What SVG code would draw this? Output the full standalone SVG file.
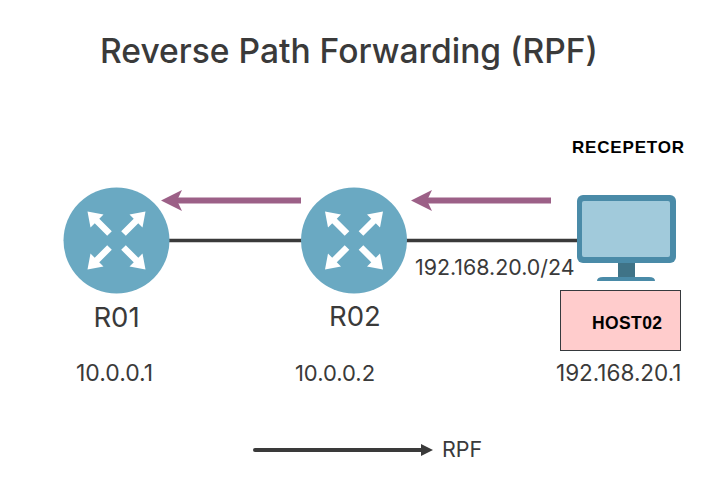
<svg xmlns="http://www.w3.org/2000/svg" width="726" height="484" viewBox="0 0 726 484">
<style>
.t{font-family:Inter,"Liberation Sans",sans-serif;fill:#3a3a3a}
.b{font-family:"Liberation Sans",Arial,sans-serif;font-weight:700;fill:#000}
.r{fill:#6aa9c2}
.wa{fill:none;stroke:#fff;stroke-width:6.500}
.wh{fill:#fff}
.link{stroke:#3a3a3a;stroke-width:3.500;fill:none}
.rpf{stroke:#9c6087;stroke-width:6;fill:none}
.rpfh{fill:#9c6087}
</style>
<defs>
<g id="arrows">
<path class="wa" d="M-7,-7L-22,-22M7,-7L22,-22M-7,7L-22,22M7,7L22,22"/>
<path class="wh" d="M-29,-29L-26,-13L-13,-26ZM29,-29L26,-13L13,-26ZM-29,29L-26,13L-13,26ZM29,29L26,13L13,26Z"/>
</g>
</defs>
<rect width="726" height="484" fill="#fff"/>
<text class="t" x="100" y="63" font-size="33.600" font-weight="500">Reverse Path Forwarding (RPF)</text>
<g id="connectors">
<path class="link" d="M168,240.500H303M406,240.500H578"/>
<path class="rpf" d="M301,200.500H172"/>
<path class="rpfh" d="M161,200.500L182,190L177,200.500L182,211Z"/>
<path class="rpf" d="M551,200.500H422"/>
<path class="rpfh" d="M411,200.500L432,190L427,200.500L432,211Z"/>
</g>
<g id="r01">
<circle class="r" cx="116.500" cy="240.500" r="53"/>
<use href="#arrows" x="116.500" y="240.500"/>
<text class="t" x="116.500" y="327" font-size="27.500" text-anchor="middle">R01</text>
<text class="t" x="114.500" y="381" font-size="23" text-anchor="middle">10.0.0.1</text>
</g>
<g id="r02">
<circle class="r" cx="354" cy="240.500" r="53"/>
<use href="#arrows" x="354" y="240.500"/>
<text class="t" x="355" y="326" font-size="27.500" text-anchor="middle">R02</text>
<text class="t" x="335" y="381" font-size="22" text-anchor="middle">10.0.0.2</text>
</g>
<text class="t" x="415" y="275" font-size="21.400">192.168.20.0/24</text>
<g id="host02">
<text class="b" x="572" y="153" font-size="17" textLength="112" lengthAdjust="spacing">RECEPETOR</text>
<rect x="577" y="195" width="99" height="68" rx="6" fill="#4a8ba8"/>
<rect x="582" y="201" width="88" height="56" rx="2" fill="#a1cadb"/>
<rect x="618" y="263" width="17" height="14" fill="#3f7387"/>
<path d="M597,281Q597,277 603,277H649Q655,277 655,281Z" fill="#4a8ba8"/>
<rect x="560.500" y="290.500" width="120" height="60" fill="#ffcccc" stroke="#36393d"/>
<text class="b" x="592" y="329" font-size="17.500" textLength="70" lengthAdjust="spacing">HOST02</text>
<text class="t" x="556" y="381" font-size="22.500">192.168.20.1</text>
</g>
<g id="legend">
<path d="M255,450H424" stroke="#3a3a3a" stroke-width="4" stroke-linecap="round"/>
<path d="M421,444L433,450L421,456Z" fill="#3a3a3a"/>
<text class="t" x="442" y="457" font-size="21.500">RPF</text>
</g>
</svg>
